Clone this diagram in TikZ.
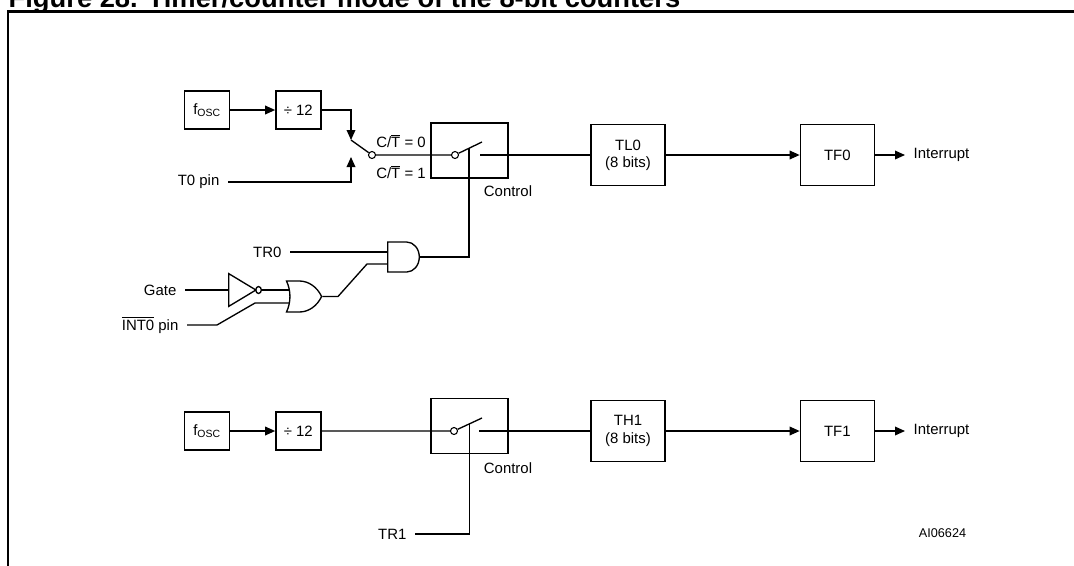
\documentclass[tikz,border=0pt]{standalone}
\usepackage{fontspec}
\setmainfont{Liberation Sans}
\usetikzlibrary{positioning,arrows.meta,shapes.gates.logic.US}

\tikzset{
  clk/.style={draw,inner sep=0pt,minimum width=33.75pt,minimum height=28.5pt},
  swbox/.style={draw,inner sep=0pt,minimum width=57.75pt,minimum height=41.25pt},
  reg/.style={draw,inner sep=0pt,align=center,minimum width=55.5pt,minimum height=45.75pt},
  lbl/.style={inner sep=6pt},
  pin/.style={circle,draw,fill=white,inner sep=0pt,minimum size=5.25pt,line width=0.8pt},
  gate/.style={draw,inner sep=0pt,transform shape,logic gate inverted radius=2.6pt},
  sig/.style={-{Triangle[length=7.5pt,width=6.5pt]}},
  title/.style={inner sep=0pt,font=\bfseries\fontsize{20.5}{24}\selectfont}
}

\begin{document}
\begin{tikzpicture}[x=0.75pt,y=-0.75pt,line width=1pt,
    font=\fontsize{11.2}{13}\selectfont]
    \useasboundingbox (0,0) rectangle (1074,565);

    % caption and frame
    \node[title,anchor=base west] (fignum) at (8,7.5) {Figure 28.};
    \node[title,anchor=base west] (figcap) at (147,7.5) {Timer/counter mode of the 8-bit counters};
    \draw[line width=1.9pt] (8,640) |- (1120,11.5);

    % timer 0
    \node[clk] (fosc0) at (207,110) {f\textsubscript{OSC}};
    \node[clk] (div0) [right=33.75pt of fosc0] {÷ 12};
    \node[swbox] (sw0) at (469.5,150.5) {};
    \node[reg] (tl0) at (628,155) {TL0\\(8 bits)};
    \node[reg] (tf0) [right=100.5pt of tl0] {TF0};
    \node[lbl,anchor=west] (irq0) at (905,155) {Interrupt};
    \node[lbl,anchor=east] (t0pin) at (228,182) {T0 pin};
    \node (ct0) at (401,141) {C/$\overline{\mbox{T}}$ = 0};
    \node (ct1) at (401,172) {C/$\overline{\mbox{T}}$ = 1};
    \node (ctl0) at (508,191) {Control};
    \node[pin] (p0) at (372,155) {};
    \node[pin] (q0) at (455,155) {};
    \coordinate (m0) at (351,140);
    \coordinate (m1) at (351,157);
    \coordinate (lev0) at (482,142);
    \coordinate (out0) at (480,155);
    \coordinate (tap0) at (469,148.3);

    \draw[sig] (fosc0) -- (div0);
    \draw[sig] (div0) -| (m0);
    \draw[sig] (t0pin) -| (m1);
    \draw (m0) -- (p0) -- (q0) -- (lev0);
    \draw (out0) -- (tl0);
    \draw[sig] (tl0) -- (tf0);
    \draw[sig] (tf0) -- (irq0);

    % gate logic
    \node[and gate US,gate,xscale=0.84,minimum height=22.5pt] (and0) at (402.5,257) {};
    \node[or gate US,gate,xscale=0.83,minimum height=23.25pt] (or0) at (301.5,296.5) {};
    \node[not gate US,gate,xscale=0.79,minimum height=21pt] (not0) at (238,290) {};
    \node[lbl,anchor=east] (tr0) at (290,252) {TR0};
    \node[lbl,anchor=east] (gate0) at (185,290) {Gate};
    \node[lbl,anchor=east] (int0) at (187,325) {$\overline{\mbox{INT0}}$ pin};
    \coordinate (g1) at (217,325);
    \coordinate (g2) at (255,303);
    \coordinate (g3) at (338,297);
    \coordinate (g4) at (367,264);

    \draw (tap0) |- (and0.output);
    \draw (tr0) -- (tr0 -| and0.west);
    \draw (gate0) -- (not0.input);
    \draw (not0.output) -- (not0.output -| or0.input 1);
    \draw (int0) -- (g1) -- (g2) -- (g2 -| or0.input 2);
    \draw (or0.output) -- (or0.output -| g3) -- (g4) -- (g4 -| and0.west);

    % timer 1
    \node[clk] (fosc1) at (207,431) {f\textsubscript{OSC}};
    \node[clk] (div1) [right=33.75pt of fosc1] {÷ 12};
    \node[swbox] (sw1) at (469.5,426) {};
    \node[reg] (th1) at (628,431) {TH1\\(8 bits)};
    \node[reg] (tf1) [right=100.5pt of th1] {TF1};
    \node[lbl,anchor=west] (irq1) at (905,431) {Interrupt};
    \node (ctl1) at (508,468) {Control};
    \node[lbl,anchor=east] (tr1) at (415,534) {TR1};
    \node[font=\fontsize{9.5}{11}\selectfont] (figref) at (942.5,533) {AI06624};
    \node[pin] (q1) at (454,431) {};
    \coordinate (lev1) at (482,418);
    \coordinate (out1) at (479,431);
    \coordinate (tap1) at (469.5,423.6);

    \draw[sig] (fosc1) -- (div1);
    \draw (div1) -- (q1) -- (lev1);
    \draw (out1) -- (th1);
    \draw[sig] (th1) -- (tf1);
    \draw[sig] (tf1) -- (irq1);
    \draw (tap1) |- (tr1);
\end{tikzpicture}
\end{document}
